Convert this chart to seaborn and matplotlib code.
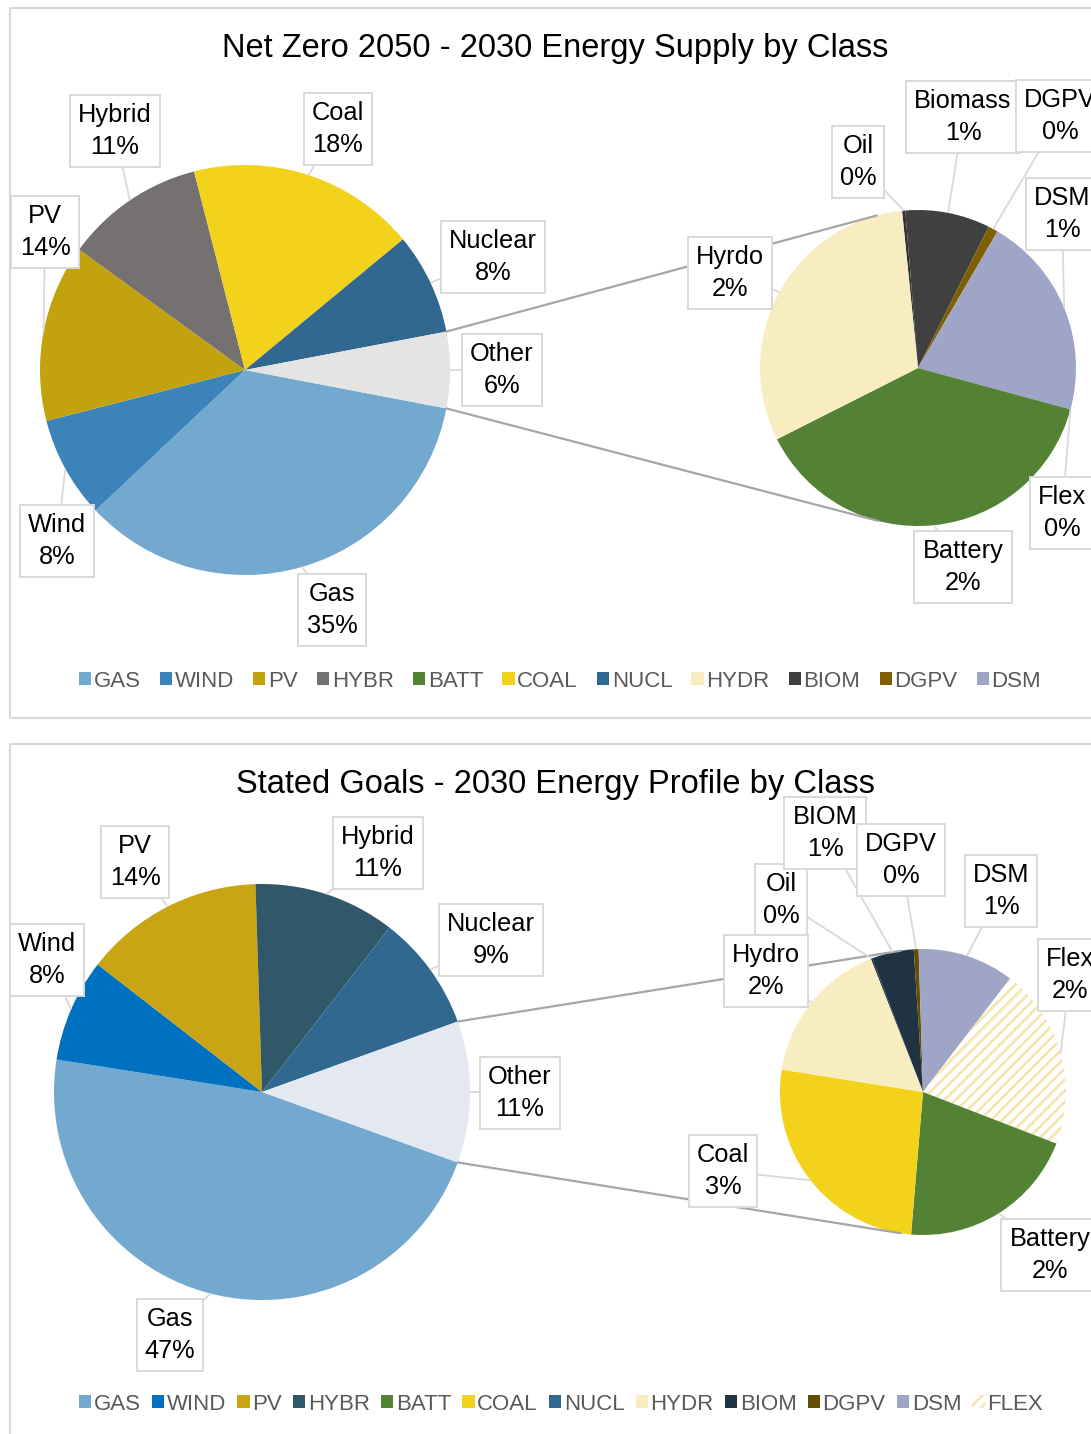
import numpy as np
import matplotlib
matplotlib.use("Agg")
import matplotlib.pyplot as plt
import seaborn as sns
from matplotlib.patches import Patch, Rectangle

# ---------------- data (percent of total supply) ----------------
# Net Zero 2050 - main pie (clockwise after Gas), remainder goes to "Other"
nz_main_names = ["Gas", "Wind", "PV", "Hybrid", "Coal", "Nuclear"]
nz_main_values = [35.0, 8.0, 14.0, 11.0, 18.0, 8.0]
# Net Zero 2050 - breakdown of "Other" (clockwise)
nz_sub_names = ["Oil", "Biomass", "DGPV", "DSM", "Flex", "Battery", "Hyrdo"]
nz_sub_values = [0.02, 0.52, 0.06, 1.25, 0.0, 2.30, 1.85]

# Stated Goals - main pie
sg_main_names = ["Gas", "Wind", "PV", "Hybrid", "Nuclear"]
sg_main_values = [47.0, 8.0, 14.0, 11.0, 9.0]
# Stated Goals - breakdown of "Other"
sg_sub_names = ["Oil", "BIOM", "DGPV", "DSM", "Flex", "Battery", "Coal", "Hydro"]
sg_sub_values = [0.02, 0.52, 0.06, 1.20, 2.25, 2.25, 2.88, 1.82]

legend_nz = ["GAS", "WIND", "PV", "HYBR", "BATT", "COAL", "NUCL", "HYDR", "BIOM", "DGPV", "DSM"]
legend_sg = ["GAS", "WIND", "PV", "HYBR", "BATT", "COAL", "NUCL", "HYDR", "BIOM", "DGPV", "DSM", "FLEX"]

title_nz = "Net Zero 2050 - 2030 Energy Supply by Class"
title_sg = "Stated Goals - 2030 Energy Profile by Class"

# ---------------- styles ----------------
nz_colors = {
    "GAS": "#74A9CF", "WIND": "#3B83B8", "PV": "#C3A30D", "HYBR": "#767171",
    "BATT": "#548235", "COAL": "#F2D21B", "NUCL": "#31688F", "HYDR": "#F7EDC0",
    "BIOM": "#404040", "DGPV": "#7F6000", "DSM": "#9FA5C6", "FLEX": "#F7EDC0",
    "OIL": "#333333", "OTHER": "#E4E4E4",
}
sg_colors = {
    "GAS": "#74A9CF", "WIND": "#0070C0", "PV": "#C9A516", "HYBR": "#30586A",
    "BATT": "#548235", "COAL": "#F2D21B", "NUCL": "#31688F", "HYDR": "#F7EDC0",
    "BIOM": "#1F3342", "DGPV": "#644E00", "DSM": "#9FA5C6", "FLEX": "#F5E6B0",
    "OIL": "#1F3342", "OTHER": "#E4E8F0",
}
key_of = {"Gas": "GAS", "Wind": "WIND", "PV": "PV", "Hybrid": "HYBR", "Coal": "COAL",
          "Nuclear": "NUCL", "Oil": "OIL", "Biomass": "BIOM", "BIOM": "BIOM",
          "DGPV": "DGPV", "DSM": "DSM", "Flex": "FLEX", "Battery": "BATT",
          "Hyrdo": "HYDR", "Hydro": "HYDR", "Other": "OTHER"}

sns.set_theme(style="white")
plt.rcParams["font.family"] = ["Liberation Sans", "DejaVu Sans"]
plt.rcParams["hatch.linewidth"] = 2.0

W, H = 1091, 1434
fig = plt.figure(figsize=(W / 100, H / 100), dpi=100)
ax = fig.add_axes([0, 0, 1, 1])


def fy(y):
    return H - y


BOX_EC = "#D9D9D9"
LEAD = "#D9D9D9"
CONN = "#A6A6A6"
LABEL_FS = 18.3
FLEX_HATCH = "///"


def pie(values, colors, center, radius, start):
    wedges, _ = ax.pie(values, colors=colors, center=(center[0], fy(center[1])),
                       radius=radius, startangle=start, counterclock=False,
                       frame=True, normalize=True,
                       wedgeprops=dict(linewidth=0, antialiased=True))
    return wedges


def label(wedge, text, box_xy, center, radius):
    mid = np.deg2rad((wedge.theta1 + wedge.theta2) / 2)
    cx, cy = center[0], fy(center[1])
    ex, ey = cx + radius * np.cos(mid), cy + radius * np.sin(mid)
    bx, by = box_xy[0], fy(box_xy[1])
    ax.plot([ex, bx], [ey, by], color=LEAD, lw=1.3, zorder=4, solid_capstyle="butt")
    ax.text(bx, by, text, ha="center", va="center", fontsize=LABEL_FS, color="black",
            linespacing=1.42, zorder=6,
            bbox=dict(boxstyle="square,pad=0.32", fc="white", ec=BOX_EC, lw=1.4))


def tangent_point(p, c, r, sign):
    dx, dy = p[0] - c[0], p[1] - c[1]
    d = np.hypot(dx, dy)
    phi = np.arctan2(dy, dx)
    a = np.arccos(r / d)
    t = phi + sign * a
    return c[0] + r * np.cos(t), c[1] + r * np.sin(t)


def panel(main_names, main_vals, sub_names, sub_vals, colors, hatch_flex,
          main_c, main_r, sub_c, sub_r, sub_start, main_boxes, sub_boxes):
    other = float(np.sum(sub_vals))
    m_vals = list(main_vals) + [other]
    m_names = list(main_names) + ["Other"]
    m_cols = [colors[key_of[n]] for n in m_names]
    # "Other" wedge centred on the right-hand side
    mw = pie(m_vals, m_cols, main_c, main_r, -other / sum(m_vals) * 180.0)

    s_cols = [colors[key_of[n]] for n in sub_names]
    sw = pie(sub_vals, s_cols, sub_c, sub_r, sub_start)
    if hatch_flex:
        for w, n in zip(sw, sub_names):
            if n == "Flex":
                w.set_facecolor("white")
                w.set_edgecolor(colors["FLEX"])
                w.set_hatch(FLEX_HATCH)
                w.set_linewidth(0)

    # connector lines between the "Other" wedge and the breakdown pie
    ow = mw[-1]
    mc = (main_c[0], fy(main_c[1]))
    sc = (sub_c[0], fy(sub_c[1]))
    t_a = np.deg2rad(ow.theta2)
    t_b = np.deg2rad(ow.theta1)
    p_top = (mc[0] + main_r * np.cos(t_a), mc[1] + main_r * np.sin(t_a))
    p_bot = (mc[0] + main_r * np.cos(t_b), mc[1] + main_r * np.sin(t_b))
    if p_top[1] < p_bot[1]:
        p_top, p_bot = p_bot, p_top
    q_top = tangent_point(p_top, sc, sub_r, -1)
    q_bot = tangent_point(p_bot, sc, sub_r, +1)
    ax.plot([p_top[0], q_top[0]], [p_top[1], q_top[1]], color=CONN, lw=1.6, zorder=3)
    ax.plot([p_bot[0], q_bot[0]], [p_bot[1], q_bot[1]], color=CONN, lw=1.6, zorder=3)

    for w, n, v in zip(mw, m_names, m_vals):
        label(w, f"{n}\n{v:.0f}%", main_boxes[n], main_c, main_r)
    for w, n, v in zip(sw, sub_names, sub_vals):
        label(w, f"{n}\n{v:.0f}%", sub_boxes[n], sub_c, sub_r)


# ---------------- panel frames ----------------
for top, bottom in [(8, 718), (744, 1450)]:
    ax.add_patch(Rectangle((10, fy(bottom)), W + 20, bottom - top, fill=False,
                           ec="#D9D9D9", lw=1.5, zorder=0))

# ---------------- Net Zero 2050 ----------------
panel(nz_main_names, nz_main_values, nz_sub_names, nz_sub_values, nz_colors, False,
      main_c=(245, 370), main_r=205, sub_c=(918, 368), sub_r=158, sub_start=95.8,
      main_boxes={"Gas": (332, 610), "Wind": (57, 541), "PV": (45, 232),
                  "Hybrid": (115, 131), "Coal": (338, 129), "Nuclear": (493, 257),
                  "Other": (502, 370)},
      sub_boxes={"Oil": (858, 162), "Biomass": (963, 117), "DGPV": (1060, 116),
                 "DSM": (1062, 214), "Flex": (1062, 513), "Battery": (963, 567),
                 "Hyrdo": (730, 273)})
ax.text(555, fy(48), title_nz, ha="center", va="center", fontsize=23.5, color="black")

# ---------------- Stated Goals ----------------
panel(sg_main_names, sg_main_values, sg_sub_names, sg_sub_values, sg_colors, True,
      main_c=(262, 1092), main_r=208, sub_c=(923, 1092), sub_r=143, sub_start=111.4,
      main_boxes={"Gas": (170, 1335), "Wind": (47, 960), "PV": (135, 862),
                  "Hybrid": (378, 853), "Nuclear": (491, 940), "Other": (520, 1093)},
      sub_boxes={"Oil": (781, 900), "BIOM": (825, 833), "DGPV": (901, 860),
                 "DSM": (1001, 891), "Flex": (1070, 975), "Battery": (1050, 1255),
                 "Coal": (723, 1171), "Hydro": (766, 971)})
ax.text(555, fy(785), title_sg, ha="center", va="center", fontsize=23.5, color="black")


# ---------------- legends ----------------
def legend(keys, colors, y, xc, colspace):
    handles = []
    for k in keys:
        if k == "FLEX":
            handles.append(Patch(facecolor="white", edgecolor=colors[k], hatch=FLEX_HATCH,
                                 lw=0, label=k))
        else:
            handles.append(Patch(facecolor=colors[k], edgecolor="none", label=k))
    return fig.legend(handles=handles, loc="center", bbox_to_anchor=(xc / W, 1 - y / H),
                      ncol=len(keys), frameon=False, fontsize=16, handlelength=0.55,
                      handleheight=0.55, handletextpad=0.12, columnspacing=colspace,
                      labelcolor="#595959", borderaxespad=0)


legend(legend_nz, nz_colors, 681, 560, 0.86)
legend(legend_sg, sg_colors, 1404, 561, 0.5)

ax.set_xlim(0, W)
ax.set_ylim(0, H)
ax.set_aspect("equal")
ax.axis("off")
fig.savefig("out.png", dpi=100, facecolor="white")
